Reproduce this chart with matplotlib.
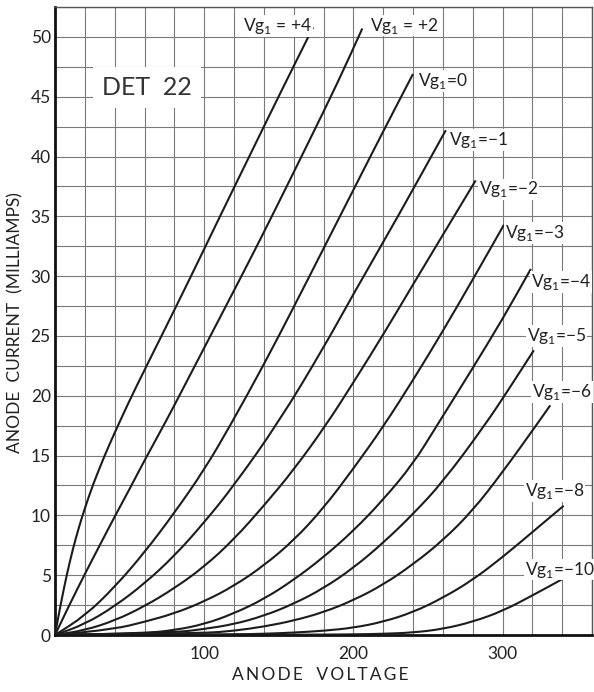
import matplotlib
matplotlib.use("Agg")
import matplotlib.pyplot as plt
from matplotlib.path import Path
from matplotlib.patches import PathPatch
import numpy as np

plt.rcParams['font.family'] = ['Lato', 'DejaVu Sans']
plt.rcParams['mathtext.fontset'] = 'custom'
plt.rcParams['mathtext.rm'] = 'Lato'

# ---- data (anode voltage V, anode current mA) ----
grid_labels = ["+4", "+2", "0", "\u22121", "\u22122", "\u22123", "\u22124",
               "\u22125", "\u22126", "\u22128", "\u221210"]

va_p4 = [0, 4, 8, 12, 16, 20, 25, 30, 36, 44, 53, 73, 92, 111, 131, 151, 173]
ia_p4 = [0, 2.7, 5.1, 7.2, 9.0, 10.6, 12.4, 14.0, 15.8, 18.0, 20.4, 25.4, 30.2, 35.1, 40.2, 45.3, 50.8]

va_p2 = [0, 5, 10, 20, 30, 40, 50, 60, 75, 90, 110, 130, 147, 170, 190, 206]
ia_p2 = [0, 1.3, 2.6, 5.1, 7.5, 9.9, 12.2, 14.6, 18.0, 21.6, 26.4, 31.2, 35.4, 41.2, 46.3, 50.7]

va_0 = [0, 20, 40, 60, 80, 100, 117, 140, 160, 180, 200, 220, 240]
ia_0 = [0, 1.6, 4.0, 6.9, 10.2, 13.8, 17.4, 22.6, 27.4, 32.3, 37.2, 42.1, 46.9]

va_m1 = [0, 20, 40, 60, 80, 100, 120, 150, 180, 200, 230, 262]
ia_m1 = [0, 0.9, 2.4, 4.3, 6.6, 9.4, 12.5, 17.8, 24.0, 28.5, 35.0, 42.2]

va_m2 = [0, 20, 40, 60, 80, 100, 120, 140, 160, 182, 200, 220, 240, 268, 282]
ia_m2 = [0, 0.4, 1.2, 2.4, 3.9, 5.7, 8.0, 10.8, 13.8, 17.6, 21.1, 25.1, 29.3, 35.1, 38.0]

va_m3 = [0, 40, 60, 80, 100, 120, 140, 160, 180, 200, 220, 240, 260, 280, 301]
ia_m3 = [0, 0.5, 1.1, 1.8, 2.8, 4.1, 5.8, 7.9, 10.6, 13.9, 17.4, 21.3, 25.4, 29.7, 34.3]

va_m4 = [0, 60, 80, 100, 120, 140, 160, 180, 200, 220, 240, 255, 280, 300, 319]
ia_m4 = [0, 0.15, 0.4, 0.9, 1.8, 3.0, 4.6, 6.5, 8.7, 11.3, 14.3, 17.3, 22.3, 26.4, 30.6]

va_m5 = [0, 80, 100, 120, 140, 160, 180, 200, 220, 240, 260, 288, 305, 321]
ia_m5 = [0, 0.2, 0.5, 0.9, 1.6, 2.6, 3.9, 5.6, 7.7, 10.1, 12.8, 17.5, 20.7, 23.8]

va_m6 = [0, 100, 120, 140, 160, 180, 200, 220, 240, 260, 280, 300, 323, 332]
ia_m6 = [0, 0.15, 0.35, 0.7, 1.2, 1.9, 2.9, 4.2, 5.9, 7.9, 10.4, 13.6, 17.6, 19.2]

va_m8 = [0, 120, 140, 160, 180, 200, 220, 240, 260, 280, 300, 320, 341]
ia_m8 = [0, 0.05, 0.1, 0.2, 0.35, 0.6, 1.1, 1.9, 3.1, 4.6, 6.5, 8.6, 10.8]

va_m10 = [0, 160, 200, 220, 240, 260, 280, 300, 320, 342]
ia_m10 = [0, 0.02, 0.05, 0.1, 0.2, 0.5, 1.1, 2.0, 3.3, 4.8]

x_tick_values = [100, 200, 300]
y_tick_values = [0, 5, 10, 15, 20, 25, 30, 35, 40, 45, 50]

curves = [(va_p4, ia_p4), (va_p2, ia_p2), (va_0, ia_0), (va_m1, ia_m1),
          (va_m2, ia_m2), (va_m3, ia_m3), (va_m4, ia_m4), (va_m5, ia_m5),
          (va_m6, ia_m6), (va_m8, ia_m8), (va_m10, ia_m10)]

# label offsets from curve end, in pixels (style only)
label_offsets = [(-1, 1, 'right'), (8, 3, 'left'), (5, -7, 'left'), (3, -10, 'left'),
                 (3, -9, 'left'), (1, -8, 'left'), (0, -13, 'left'), (-7, 14, 'left'),
                 (-18, 13, 'left'), (-39, 15, 'left'), (-40, 8, 'left')]
label_spacing = [" = ", " = ", "=", "=", "=", "=", "=", "=", "=", "=", "="]


def smooth_path(xs, ys):
    """Quadratic-Bezier rendering through the read points (midpoint scheme)."""
    pts = list(zip(xs, ys))
    verts = [pts[0]]
    codes = [Path.MOVETO]
    if len(pts) > 2:
        m = ((pts[0][0] + pts[1][0]) / 2, (pts[0][1] + pts[1][1]) / 2)
        verts.append(m)
        codes.append(Path.LINETO)
        for i in range(1, len(pts) - 1):
            m = ((pts[i][0] + pts[i + 1][0]) / 2, (pts[i][1] + pts[i + 1][1]) / 2)
            verts += [pts[i], m]
            codes += [Path.CURVE3, Path.CURVE3]
    verts.append(pts[-1])
    codes.append(Path.LINETO)
    return Path(verts, codes)


W, H = 594, 692
fig = plt.figure(figsize=(W / 100, H / 100), dpi=100)
ax = fig.add_axes([55 / W, 57 / H, 537 / W, 628 / H])
ax.set_xlim(0, 360)
ax.set_ylim(0, 52.5)

ax.set_xticks(x_tick_values)
ax.set_xticks(np.arange(0, 361, 20), minor=True)
ax.set_yticks(y_tick_values)
ax.set_yticks(np.arange(0, 52.6, 2.5), minor=True)
ax.tick_params(which='both', length=0)
ax.tick_params(axis='x', pad=8, labelsize=12.5, colors='#222222')
ax.tick_params(axis='y', pad=3, labelsize=12.5, colors='#222222')
ax.grid(which='both', color='#7a7a7a', lw=0.8)
ax.set_axisbelow(True)

for s in ['left', 'bottom']:
    ax.spines[s].set_linewidth(2.0)
    ax.spines[s].set_color('#111111')
for s in ['top', 'right']:
    ax.spines[s].set_linewidth(1.0)
    ax.spines[s].set_color('#555555')

for (va, ia), lab, sp, (dx, dy, ha) in zip(curves, grid_labels, label_spacing, label_offsets):
    ax.add_patch(PathPatch(smooth_path(va, ia), fc='none', ec='#1c1c1c', lw=1.5,
                           joinstyle='round', zorder=3))
    ax.annotate("Vg$_{\\mathregular{1}}$" + sp + lab, xy=(va[-1], ia[-1]),
                xytext=(dx, dy), textcoords='offset pixels', ha=ha, va='center',
                fontsize=12.5, color='#222222', zorder=4,
                bbox=dict(boxstyle='square,pad=0.05', fc='white', ec='none'))

ax.text(0.171, 0.872, "DET  22", transform=ax.transAxes, ha='center', va='center',
        fontsize=18, color='#333333', zorder=4,
        bbox=dict(boxstyle='square,pad=0.35', fc='white', ec='none'))

fig.text(320 / W, 1 - 675 / H, "A N O D E   V O L T A G E".replace(" ", "\u2009").replace("\u2009\u2009\u2009", "   "),
         ha='center', va='center', fontsize=12.5, color='#222222')
fig.text(15 / W, 1 - 323 / H, "ANODE  CURRENT  (MILLIAMPS)", ha='center', va='center',
         rotation=90, fontsize=12.5, color='#222222')

fig.savefig("out.png", dpi=100, facecolor='white')
